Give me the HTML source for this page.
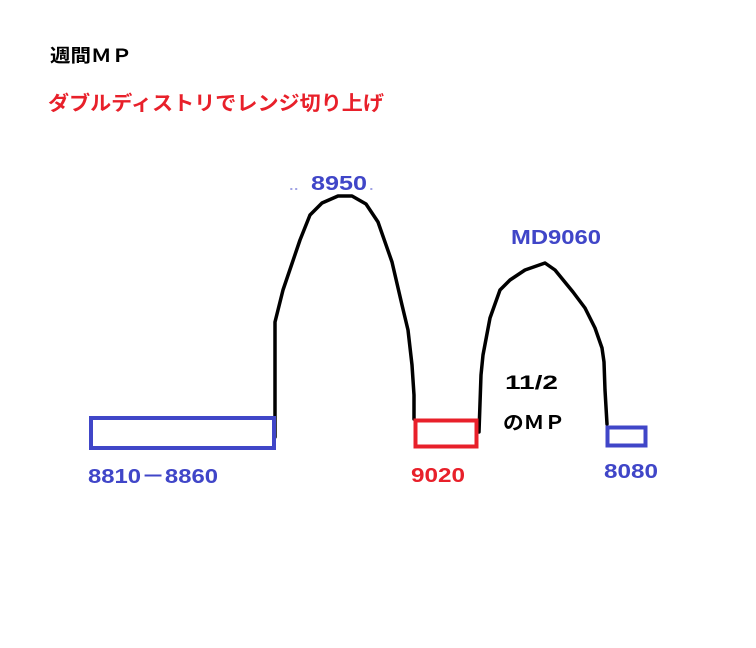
<!DOCTYPE html>
<html><head><meta charset="utf-8"><style>
html,body{margin:0;padding:0;background:#fff;width:756px;height:648px;overflow:hidden}
text{font-family:"Liberation Sans","Noto Sans CJK JP",sans-serif;font-weight:bold}
</style></head><body>
<svg width="756" height="648" viewBox="0 0 756 648" xmlns="http://www.w3.org/2000/svg">
<text x="50" y="62" font-size="18" fill="#000" textLength="82" lengthAdjust="spacingAndGlyphs">週間ＭＰ</text>
<text x="48" y="110" font-size="20" fill="#e8202a" textLength="336" lengthAdjust="spacingAndGlyphs">ダブルディストリでレンジ切り上げ</text>
<text x="311" y="190" font-size="20" fill="#4046c8" textLength="56" lengthAdjust="spacingAndGlyphs">8950</text>
<text x="290" y="191" font-size="8" fill="#4046c8">- -</text>
<text x="370" y="191" font-size="8" fill="#4046c8">-</text>
<text x="511" y="244" font-size="20" fill="#4046c8" textLength="90" lengthAdjust="spacingAndGlyphs">MD9060</text>
<text x="505" y="389" font-size="19" fill="#000" textLength="53" lengthAdjust="spacingAndGlyphs">11/2</text>
<text x="503" y="429" font-size="19" fill="#000" textLength="62" lengthAdjust="spacingAndGlyphs">のＭＰ</text>
<text x="88" y="483" font-size="20" fill="#4046c8" textLength="130" lengthAdjust="spacingAndGlyphs">8810－8860</text>
<text x="411" y="482" font-size="20" fill="#e8202a" textLength="54" lengthAdjust="spacingAndGlyphs">9020</text>
<text x="604" y="478" font-size="20" fill="#4046c8" textLength="54" lengthAdjust="spacingAndGlyphs">8080</text>
<g fill="none" stroke="#000" stroke-width="3.5" stroke-linejoin="round" stroke-linecap="round">
<path d="M275,437 L275,322 L283,290 L300,240 L310,215 L322,203 L338,196 L352,196 L366,204 L378,222 L392,262 L402,305 L408,330 L412,365 L414,395 L414,419"/>
<path d="M479,432 L481,375 L483,355 L490,318 L500,290 L510,280 L525,270 L545,263 L555,270 L573,292 L585,308 L595,328 L602,348 L604,362 L605,390 L607,424"/>
</g>
<rect x="91" y="418" width="183" height="30" fill="none" stroke="#4046c8" stroke-width="4"/>
<rect x="415.5" y="420.5" width="61" height="26" fill="none" stroke="#e8202a" stroke-width="4"/>
<rect x="607.5" y="427.5" width="38" height="18" fill="none" stroke="#4046c8" stroke-width="4"/>
</svg>
</body></html>
